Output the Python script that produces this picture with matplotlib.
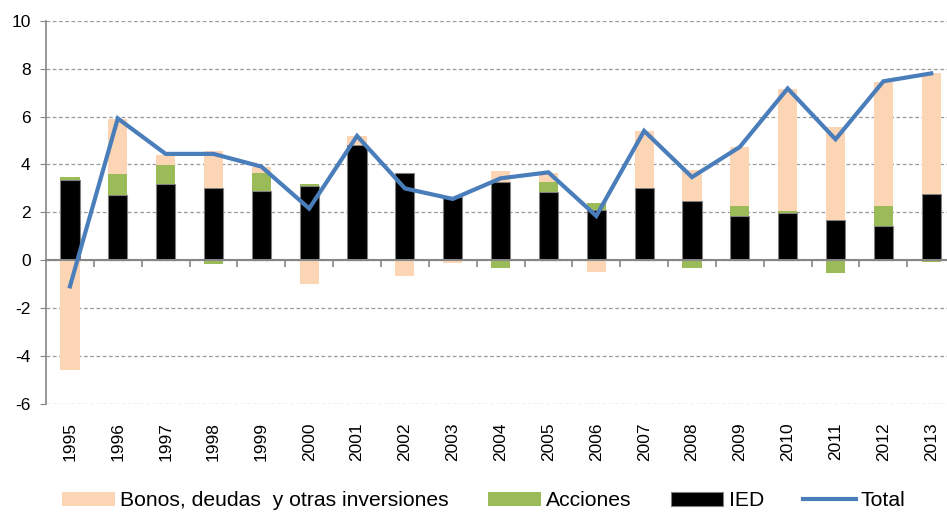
import matplotlib
matplotlib.use('Agg')
import matplotlib.pyplot as plt
import numpy as np

plt.rcParams['font.family'] = ['Liberation Sans', 'DejaVu Sans']
plt.rcParams['axes.unicode_minus'] = False

# datos (% del PIB)
years = [str(y) for y in range(1995, 2014)]
ied = [3.33, 2.73, 3.19, 3.02, 2.88, 3.09, 4.80, 3.66, 2.63, 3.26,
       2.85, 2.10, 3.02, 2.47, 1.83, 1.99, 1.69, 1.44, 2.78]
acciones = [0.16, 0.85, 0.79, -0.16, 0.78, 0.10, 0.03, 0.0, 0.0, -0.33,
            0.41, 0.31, -0.02, -0.31, 0.45, 0.06, -0.55, 0.84, -0.09]
bonos = [-4.59, 2.32, 0.43, 1.56, 0.22, -0.99, 0.36, -0.66, -0.10, 0.47,
         0.39, -0.51, 2.38, 1.31, 2.45, 5.08, 3.87, 5.16, 5.05]
total = [-1.09, 5.92, 4.44, 4.44, 3.91, 2.16, 5.19, 3.00, 2.56, 3.42,
         3.67, 1.85, 5.40, 3.47, 4.73, 7.17, 5.05, 7.47, 7.80]

series = [
    ('IED', ied, '#000000', '#808080'),
    ('Acciones', acciones, '#9BBB59', 'none'),
    ('Bonos, deudas  y otras inversiones', bonos, '#FCD5B5', 'none'),
]

fig = plt.figure(figsize=(9.47, 5.12), dpi=100)
ax = fig.add_axes([0.0486, 0.2109, 0.960, 0.7487])

x = np.arange(len(years))
pos_base = np.zeros(len(years))
neg_base = np.zeros(len(years))
handles = {}
for name, vals, color, edge in series:
    v = np.array(vals)
    bottom = np.where(v >= 0, pos_base, neg_base)
    b = ax.bar(x, v, width=0.4, bottom=bottom, color=color,
               edgecolor=edge, linewidth=0.8, zorder=3)
    handles[name] = b
    pos_base += np.where(v >= 0, v, 0)
    neg_base += np.where(v < 0, v, 0)

line, = ax.plot(x, total, color='#4A7EBB', lw=3, zorder=5,
                solid_joinstyle='miter')

ax.set_xlim(-0.5, len(years) - 0.5)
ax.set_ylim(-6, 10)
ax.set_yticks(np.arange(-6, 11, 2))
ax.tick_params(axis='y', direction='out', length=4, color='#868686',
               labelsize=12.5, pad=7)
ax.yaxis.grid(True, color='#9A9A9A', linestyle=(0, (3, 2)), lw=0.9)
ax.set_axisbelow(True)

for s in ['top', 'right']:
    ax.spines[s].set_visible(False)
ax.spines['left'].set_color('#868686')
ax.spines['left'].set_linewidth(1.2)
ax.spines['bottom'].set_position(('data', 0))
ax.spines['bottom'].set_color('#868686')
ax.spines['bottom'].set_linewidth(1.5)
ax.spines['bottom'].set_zorder(4)

# marcas entre categorías sobre el eje cero
ax.set_xticks([])
ax.set_xticks(np.arange(0.5, len(years), 1), minor=True)
ax.tick_params(axis='x', which='minor', direction='out', length=5,
               color='#868686', width=1.2)

# etiquetas de años en la parte baja
sec = ax.secondary_xaxis(0)
sec.set_xticks(x)
sec.set_xticklabels(years, rotation=90)
sec.tick_params(length=0, labelsize=12.5, pad=13)
sec.spines['bottom'].set_visible(False)

order = ['Bonos, deudas  y otras inversiones', 'Acciones', 'IED']
fig.legend([handles[n] for n in order] + [line], order + ['Total'],
           loc='center', bbox_to_anchor=(0.511, 0.022), ncol=4,
           frameon=False, fontsize=15.2, handlelength=2.5,
           handletextpad=0.25, columnspacing=1.85, handleheight=0.62)

fig.savefig('out.png', dpi=100)
